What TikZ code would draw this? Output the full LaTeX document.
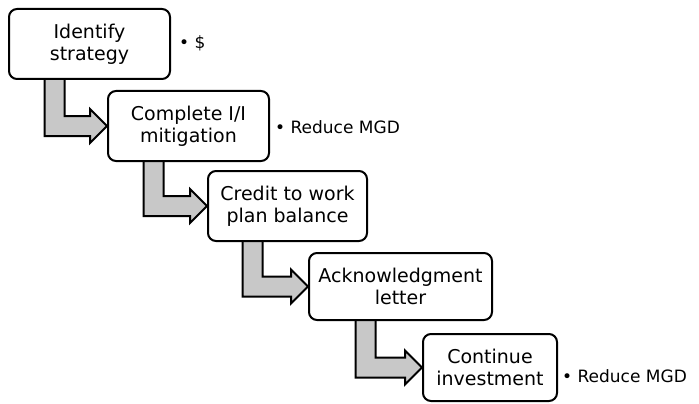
\documentclass[tikz,border=0pt]{standalone}
\usepackage{fontspec}
\setmainfont{DejaVu Sans}
\usetikzlibrary{calc,backgrounds}
\definecolor{flowgray}{RGB}{200,200,200}
\tikzset{
  stepbox/.style={draw=black, line width=2pt, rounded corners=8pt, fill=white,
    inner sep=0pt, align=center, font=\fontsize{19}{22}\selectfont},
  note/.style={anchor=west, inner sep=0pt, font=\fontsize{17}{20}\selectfont},
  flow/.style={draw=black, fill=flowgray, line width=2pt, line join=miter}
}
% L-shaped block arrow: down from the bottom of #1, then right into #2
\newcommand{\flowarrow}[2]{%
  \draw[flow] let \p1=(#1.south), \p2=(#2.west) in
    (\x1-45pt,\y1+5pt) -- (\x1-45pt,\y2-10pt) -- (\x2-17pt,\y2-10pt)
    -- (\x2-17pt,\y2-17pt) -- (\x2,\y2) -- (\x2-17pt,\y2+17pt)
    -- (\x2-17pt,\y2+10pt) -- (\x1-25pt,\y2+10pt) -- (\x1-25pt,\y1+5pt) -- cycle;}
\begin{document}
\begin{tikzpicture}[x=1pt,y=-1pt]
\useasboundingbox (0,0) rectangle (699,404);

\node[stepbox, minimum width=161pt, minimum height=70pt] (s1) at (89.5,44) {Identify\\strategy};
\node[stepbox, minimum width=161pt, minimum height=70pt] (s2) at (188.5,126) {Complete I/I\\mitigation};
\node[stepbox, minimum width=159pt, minimum height=70pt] (s3) at (287.5,206) {Credit to work\\plan balance};
\node[stepbox, minimum width=183pt, minimum height=67pt] (s4) at (400.5,286.5) {Acknowledgment\\letter};
\node[stepbox, minimum width=134pt, minimum height=67pt] (s5) at (490,367.5) {Continue\\investment};

\node[note] (n1) at (179,43) {• \$};
\node[note] (n2) at (275,127) {• Reduce MGD};
\node[note] (n5) at (562,376) {• Reduce MGD};

\begin{scope}[on background layer]
  \flowarrow{s1}{s2}
  \flowarrow{s2}{s3}
  \flowarrow{s3}{s4}
  \flowarrow{s4}{s5}
\end{scope}
\end{tikzpicture}
\end{document}
